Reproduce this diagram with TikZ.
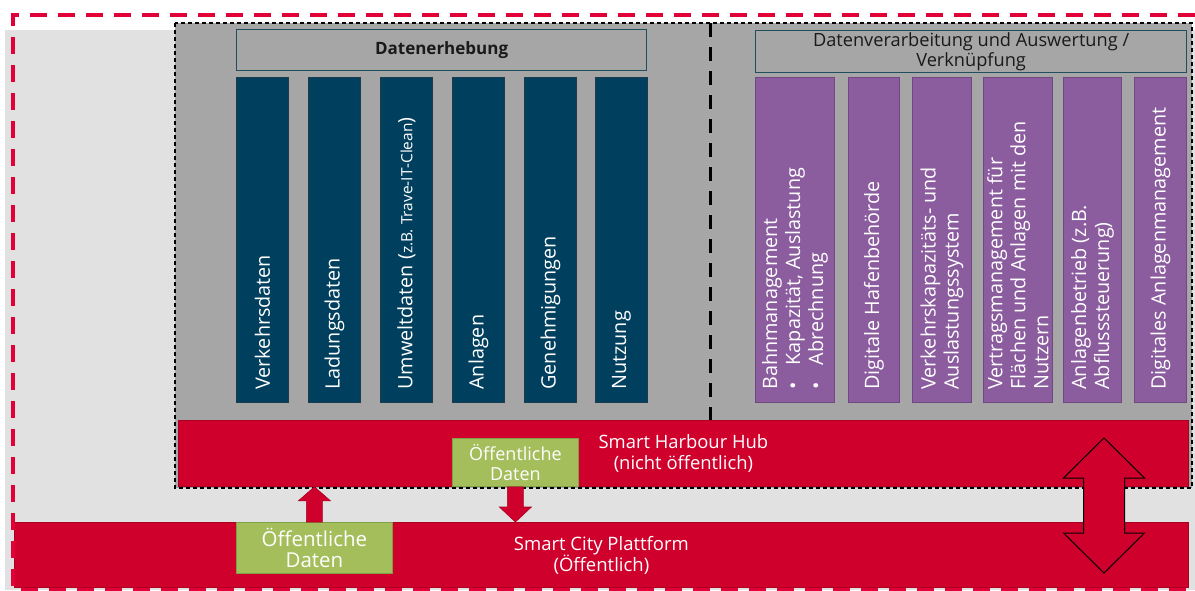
\documentclass[tikz,border=0pt]{standalone}
\usepackage{fontspec}
\setmainfont{Open Sans}
\usetikzlibrary{calc}
\definecolor{bglight}{RGB}{225,225,225}
\definecolor{boxgray}{RGB}{166,166,166}
\definecolor{bluecolf}{RGB}{0,64,94}
\definecolor{bluebd}{RGB}{30,58,76}
\definecolor{purplef}{RGB}{139,92,158}
\definecolor{purplebd}{RGB}{112,72,130}
\definecolor{redf}{RGB}{208,0,44}
\definecolor{redbd}{RGB}{170,0,34}
\definecolor{greenf}{RGB}{163,190,91}
\definecolor{greenbd}{RGB}{128,160,70}
\definecolor{reddash}{RGB}{226,0,56}
\definecolor{headbd}{RGB}{31,78,95}
\definecolor{textdark}{RGB}{26,26,26}
\tikzset{
  bluecol/.style={draw=bluebd, line width=0.8pt, fill=bluecolf, minimum width=52pt, minimum height=325pt, inner sep=0pt, anchor=north west},
  purplecol/.style={draw=purplebd, line width=0.8pt, fill=purplef, minimum height=325pt, inner sep=0pt, anchor=north west},
  coltext/.style={rotate=90, anchor=west, inner sep=0pt, align=left, text=white, font=\fontsize{19.8}{23}\selectfont},
  headbox/.style={draw=headbd, line width=1.2pt, fill=boxgray, inner sep=0pt, anchor=north west, align=center, text=textdark},
  redbar/.style={draw=redbd, line width=0.8pt, fill=redf, inner sep=0pt, anchor=north west, align=center, text=white, font=\fontsize{18.4}{20.5}\selectfont},
  greenbox/.style={draw=greenbd, line width=0.8pt, fill=greenf, inner sep=0pt, anchor=north west, align=center, text=white},
  blockarrow/.style={draw=redbd, line width=0.6pt, fill=redf},
  bigarrow/.style={draw=black, line width=1pt, fill=redf}
}
\begin{document}
\begin{tikzpicture}[x=1pt,y=-1pt]
\useasboundingbox (0,0) rectangle (1195,590);
% background
\fill[bglight] (5,30) rectangle (1195,590);
% dashed gray container
\draw[fill=boxgray, draw=black, line width=1.3pt, dash pattern=on 4pt off 3pt] (175,23) rectangle (1192,488);
\draw[black, line width=3pt, dash pattern=on 14pt off 10pt] (710,23) -- (710,420);
% headers
\node[headbox, minimum width=410pt, minimum height=41pt, font=\fontsize{17}{20}\selectfont\bfseries] (h1) at (236,29) {Datenerhebung};
\node[headbox, minimum width=431pt, minimum height=42pt, font=\fontsize{18.2}{20}\selectfont] (h2) at (755,30) {Datenverarbeitung und Auswertung /\\Verknüpfung};
% blue columns
\node[bluecol] (b1) at (236,77) {};
\node[bluecol] (b2) at (308,77) {};
\node[bluecol] (b3) at (380,77) {};
\node[bluecol] (b4) at (452,77) {};
\node[bluecol] (b5) at (524,77) {};
\node[bluecol] (b6) at (595,77) {};
\node[coltext] (tb1) at ($(b1.south)+(0,-13)$) {Verkehrsdaten};
\node[coltext] (tb2) at ($(b2.south)+(0,-13)$) {Ladungsdaten};
\node[coltext] (tb3) at ($(b3.south)+(0,-13)$) {Umweltdaten ({\fontsize{15.5}{17}\selectfont z.B. Trave-IT-Clean})};
\node[coltext] (tb4) at ($(b4.south)+(0,-13)$) {Anlagen};
\node[coltext] (tb5) at ($(b5.south)+(0,-13)$) {Genehmigungen};
\node[coltext] (tb6) at ($(b6.south)+(0,-13)$) {Nutzung};
% purple columns
\node[purplecol, minimum width=79pt] (p1) at (755,77) {};
\node[purplecol, minimum width=51pt] (p2) at (848,77) {};
\node[purplecol, minimum width=59pt] (p3) at (912,77) {};
\node[purplecol, minimum width=69pt] (p4) at (983,77) {};
\node[purplecol, minimum width=58pt] (p5) at (1063,77) {};
\node[purplecol, minimum width=52pt] (p6) at (1134,77) {};
\node[coltext] (tp1) at ($(p1.south)+(0,-13)$) {Bahnmanagement\\•\hspace{17pt}Kapazität, Auslastung\\•\hspace{17pt}Abrechnung};
\node[coltext] (tp2) at ($(p2.south)+(0,-13)$) {Digitale Hafenbehörde};
\node[coltext] (tp3) at ($(p3.south)+(0,-13)$) {Verkehrskapazitäts- und\\Auslastungssystem};
\node[coltext] (tp4) at ($(p4.south)+(0,-13)$) {Vertragsmanagement für\\Flächen und Anlagen mit den\\Nutzern};
\node[coltext] (tp5) at ($(p5.south)+(0,-13)$) {Anlagenbetrieb (z.B.\\Abflusssteuerung)};
\node[coltext] (tp6) at ($(p6.south)+(0,-13)$) {Digitales Anlagenmanagement};
% bars
\node[redbar, minimum width=1010pt, minimum height=66pt] (hub) at (178,420) {Smart Harbour Hub\\(nicht öffentlich)};
\node[redbar, minimum width=1174pt, minimum height=65pt, font=\fontsize{18.5}{21}\selectfont] (city) at (14,522) {Smart City Plattform\\(Öffentlich)};
% green boxes
\node[greenbox, minimum width=126pt, minimum height=48pt, font=\fontsize{18}{20}\selectfont] (hgreen) at (452,438) {Öffentliche\\Daten};
\node[greenbox, minimum width=156pt, minimum height=51pt, font=\fontsize{20.5}{21.5}\selectfont] (cgreen) at (236,522) {Öffentliche\\Daten};
% up arrow: city green -> hub
\coordinate (uaB) at (cgreen.north);
\coordinate (uaT) at (uaB |- hub.south);
\draw[blockarrow] ($(uaB)+(-8,0)$) -- ($(uaT)+(-8,14)$) -- ($(uaT)+(-16,14)$) -- (uaT) -- ($(uaT)+(16,14)$) -- ($(uaT)+(8,14)$) -- ($(uaB)+(8,0)$) -- cycle;
% down arrow: hub green -> city
\coordinate (daT) at (hgreen.south);
\coordinate (daB) at (daT |- city.north);
\draw[blockarrow] ($(daT)+(-8,0)$) -- ($(daB)+(-8,-15)$) -- ($(daB)+(-16,-15)$) -- (daB) -- ($(daB)+(16,-15)$) -- ($(daB)+(8,-15)$) -- ($(daT)+(8,0)$) -- cycle;
% double arrow hub <-> city
\coordinate (dT) at (1104,438);
\coordinate (dB) at (1104,573);
\draw[bigarrow] (dT) -- ($(dT)+(40.5,40)$) -- ($(dT)+(20.5,40)$) -- ($(dB)+(20.5,-40)$) -- ($(dB)+(40.5,-40)$) -- (dB) -- ($(dB)+(-40.5,-40)$) -- ($(dB)+(-20.5,-40)$) -- ($(dT)+(-20.5,40)$) -- ($(dT)+(-40.5,40)$) -- cycle;
% red dashed frame
\draw[reddash, line width=4pt, dash pattern=on 17pt off 11pt] (1195,15) -- (13,15) -- (13,589.5) -- (1195,589.5);
\end{tikzpicture}
\end{document}
